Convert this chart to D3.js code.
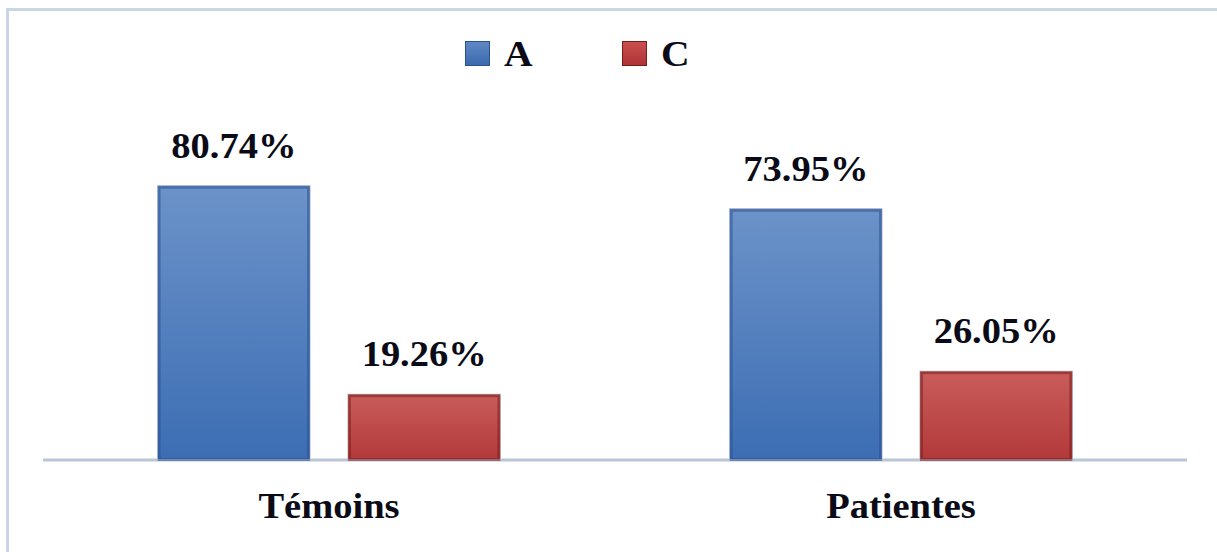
<!DOCTYPE html>
<html>
<head>
<meta charset="utf-8">
<script src="https://cdn.jsdelivr.net/npm/d3@7"></script>
<style>
  html, body { margin: 0; padding: 0; background: #ffffff; }
  svg { display: block; }
  text { font-family: "Liberation Serif", "Times New Roman", serif; font-weight: bold; fill: #0b0b18; }
</style>
</head>
<body>
<svg id="chart" width="1217" height="552"></svg>
<script>
// Allele frequencies by group
const categories = ["Témoins", "Patientes"];
const series = ["A", "C"];
const valuesA = [80.74, 73.95];
const valuesC = [19.26, 26.05];
const valueLabels = [["80.74%", "19.26%"], ["73.95%", "26.05%"]];

const W = 1217, H = 552;
const plot = { left: 43, right: 1187, base: 459.5, top: 154.3 };
const stretch = 1.1; // slightly wide text face

const svg = d3.select("#chart");
const defs = svg.append("defs");

function gradient(id, top, bottom) {
  const g = defs.append("linearGradient").attr("id", id)
    .attr("x1", 0).attr("y1", 0).attr("x2", 0).attr("y2", 1);
  g.append("stop").attr("offset", "0%").attr("stop-color", top);
  g.append("stop").attr("offset", "100%").attr("stop-color", bottom);
}
gradient("gA", "#6c93c9", "#3c6db3");
gradient("gC", "#c95d5b", "#b3393a");
gradient("lA", "#5f89c4", "#3a69ad");
gradient("lC", "#c9504f", "#ad3434");

const fills = { A: "url(#gA)", C: "url(#gC)" };
const edges = { A: "#2a5190", C: "#7a1c1c" };
const legendFill = { A: "url(#lA)", C: "url(#lC)" };

// outer chart frame (only top and left edges fall inside the view)
svg.append("rect")
  .attr("x", 7.5).attr("y", 9.5).attr("width", W + 20).attr("height", H + 20)
  .attr("fill", "none").attr("stroke", "#c8d6e8").attr("stroke-width", 3);

const x0 = d3.scaleBand().domain(categories).range([plot.left, plot.right]).padding(0);
const x1 = d3.scaleBand().domain(series).range([0, x0.bandwidth()])
  .paddingInner(0.199).paddingOuter(0.602);
const y = d3.scaleLinear().domain([0, 90]).range([plot.base, plot.top]);

const rows = categories.map((c, i) => ({
  cat: c,
  items: [
    { key: "A", v: valuesA[i], label: valueLabels[i][0] },
    { key: "C", v: valuesC[i], label: valueLabels[i][1] }
  ]
}));

// category axis line
svg.append("line")
  .attr("x1", plot.left).attr("x2", plot.right)
  .attr("y1", plot.base + 0.5).attr("y2", plot.base + 0.5)
  .attr("stroke", "#b8c6d6").attr("stroke-width", 3);

const groups = svg.selectAll("g.cat").data(rows).join("g")
  .attr("class", "cat")
  .attr("transform", d => `translate(${x0(d.cat)},0)`);

const bars = groups.selectAll("g.bar").data(d => d.items).join("g").attr("class", "bar");

bars.append("rect")
  .attr("x", d => x1(d.key))
  .attr("y", d => y(d.v))
  .attr("width", x1.bandwidth())
  .attr("height", d => y(0) - y(d.v))
  .attr("fill", d => fills[d.key])
  .attr("stroke", "#c9cfd8")
  .attr("stroke-width", 1);

// darker inner rim
bars.append("rect")
  .attr("x", d => x1(d.key) + 1.5)
  .attr("y", d => y(d.v) + 1.5)
  .attr("width", x1.bandwidth() - 3)
  .attr("height", d => y(0) - y(d.v) - 1.5)
  .attr("fill", "none")
  .attr("stroke", d => edges[d.key])
  .attr("stroke-opacity", 0.55)
  .attr("stroke-width", 3);

bars.append("text")
  .attr("transform", d => `translate(${x1(d.key) + x1.bandwidth() / 2},${y(d.v) - 28}) scale(${stretch},1)`)
  .attr("text-anchor", "middle")
  .attr("font-size", 35)
  .text(d => d.label);

// category labels
svg.selectAll("text.cat").data(categories).join("text")
  .attr("class", "cat")
  .attr("transform", d => `translate(${x0(d) + x0.bandwidth() / 2},518) scale(${stretch},1)`)
  .attr("text-anchor", "middle")
  .attr("font-size", 35)
  .text(d => d);

// legend
const legendX = { A: 465, C: 622 };
const lg = svg.selectAll("g.legend").data(series).join("g")
  .attr("class", "legend")
  .attr("transform", d => `translate(${legendX[d]},41)`);
lg.append("rect").attr("x", 0.5).attr("y", 0.5).attr("width", 24).attr("height", 24)
  .attr("fill", d => legendFill[d]).attr("stroke", d => edges[d]).attr("stroke-width", 1);
lg.append("text").attr("transform", `translate(39,25) scale(${stretch},1)`)
  .attr("font-size", 36).text(d => d);
</script>
</body>
</html>
